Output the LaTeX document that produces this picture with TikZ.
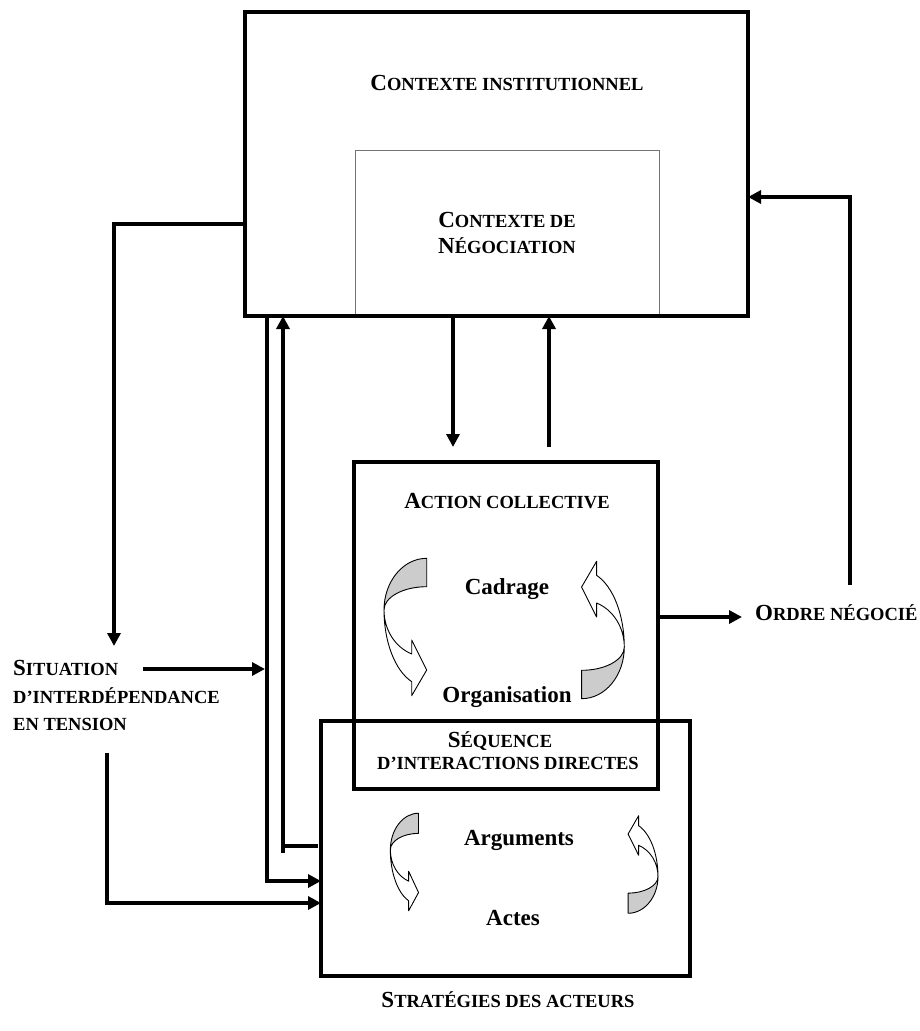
\documentclass[tikz,border=0pt]{standalone}
\usepackage{fontspec}
\setmainfont{Liberation Serif}
\usetikzlibrary{arrows.meta}
\newcommand\bigsz{\fontsize{23}{26}\selectfont}
\newcommand\smsz{\fontsize{18.5}{26}\selectfont}
\tikzset{
  box/.style={draw, line width=4.5pt, rectangle, inner sep=0pt, outer sep=0pt},
  thinbox/.style={draw=black!55, line width=1pt, rectangle, inner sep=0pt, outer sep=0pt},
  conn/.style={line width=3.3pt},
  arr/.style={conn, -{Triangle[length=13pt,width=13pt]}},
  lbl/.style={inner sep=0pt, anchor=base, font=\bfseries},
  lblw/.style={inner sep=0pt, anchor=base west, font=\bfseries},
  backface/.style={fill=black!20, draw=black, line width=0.9pt, line join=round},
  frontface/.style={fill=white, draw=black, line width=0.9pt, line join=round},
}
\newcommand\curvedarr[5]{%
  \begin{scope}[shift={(#1,#2)},rotate=#3,xscale=#4,yscale=#5]
    \draw[backface] (21.7,-68.7) .. controls (-1.9,-68.7) and (-21,-45.55) .. (-21,-17)
      .. controls (-21,-29.87) and (-1.88,-40.3) .. (21.7,-40.3) -- cycle;
    \draw[frontface] (-21,-17) .. controls (-21,14.9) and (-9.97,43.48) .. (6.7,54.7)
      -- (6.7,68.7) -- (21.7,43) -- (6.7,13) -- (6.7,27)
      .. controls (-9.97,20.12) and (-21,2.58) .. (-21,-17) -- cycle;
  \end{scope}}
\begin{document}
\begin{tikzpicture}[x=1pt,y=-1pt]
\useasboundingbox (0,0) rectangle (920,1031);

% boxes
\node[thinbox, minimum width=304pt, minimum height=166pt] (neg) at (507,233) {};
\node[box, minimum width=503pt, minimum height=304pt] (inst) at (496.5,164) {};
\node[box, minimum width=304pt, minimum height=327pt] (action) at (506,625.5) {};
\node[box, minimum width=369pt, minimum height=255pt] (strat) at (505.5,848.5) {};

% texts
\node[lbl] (tinst) at (507,90) {\bigsz C\smsz ONTEXTE INSTITUTIONNEL};
\node[lbl] (tneg1) at (507,227) {\bigsz C\smsz ONTEXTE DE};
\node[lbl] (tneg2) at (507,253) {\bigsz N\smsz ÉGOCIATION};
\node[lbl] (tact) at (507,508) {\bigsz A\smsz CTION COLLECTIVE};
\node[lbl] (tcad) at (507,594) {\bigsz Cadrage};
\node[lbl] (torg) at (507,702) {\bigsz Organisation};
\node[lbl] (tseq1) at (500,747) {\bigsz S\smsz ÉQUENCE};
\node[lbl] (tseq2) at (508,769) {\smsz D’INTERACTIONS DIRECTES};
\node[lbl] (targ) at (519,845) {\bigsz Arguments};
\node[lbl] (tactes) at (513,925) {\bigsz Actes};
\node[lbl] (tstrat) at (508,1007) {\bigsz S\smsz TRATÉGIES DES ACTEURS};
\node[lblw] (tsit1) at (13,675) {\bigsz S\smsz ITUATION};
\node[lblw] (tsit2) at (13,703) {\smsz D’INTERDÉPENDANCE};
\node[lblw] (tsit3) at (13,730) {\smsz EN TENSION};
\node[lblw] (tordre) at (755,620) {\bigsz O\smsz RDRE NÉGOCIÉ};

% curved arrows
\curvedarr{405}{627}{0}{1}{1}
\curvedarr{603.3}{630}{180}{1}{1}
\curvedarr{404.2}{862}{0}{0.66}{0.71}
\curvedarr{643.3}{864.5}{180}{0.70}{0.71}

% connector anchor coordinates
\coordinate (c1) at (114,224);
\coordinate (c1e) at (114,646);
\coordinate (s0) at (143,669);
\coordinate (s1) at (265,669);
\coordinate (v1b) at (267,881);
\coordinate (v2b) at (283,853);
\coordinate (v2j) at (283,846);
\coordinate (v2s) at (318,846);
\coordinate (t0) at (107,753);
\coordinate (t1) at (107,903);
\coordinate (d1) at (453,447);
\coordinate (u1) at (549,447);
\coordinate (o1) at (742,617);
\coordinate (r0) at (850,585);
\coordinate (r1) at (850,197);

% connectors
\draw[arr] (inst.west |- c1) -- (c1) -- (c1e);
\draw[arr] (s0) -- (s1);
\draw[arr] (inst.south -| v1b) -- (v1b) -- (strat.west |- v1b);
\draw[arr] (v2b) -- (inst.south -| v2b);
\draw[conn] (v2j) -- (v2s);
\draw[arr] (t0) -- (t1) -- (strat.west |- t1);
\draw[arr] (inst.south -| d1) -- (d1);
\draw[arr] (u1) -- (inst.south -| u1);
\draw[arr] (action.east |- o1) -- (o1);
\draw[arr] (r0) -- (r1) -- (inst.east |- r1);
\end{tikzpicture}
\end{document}
